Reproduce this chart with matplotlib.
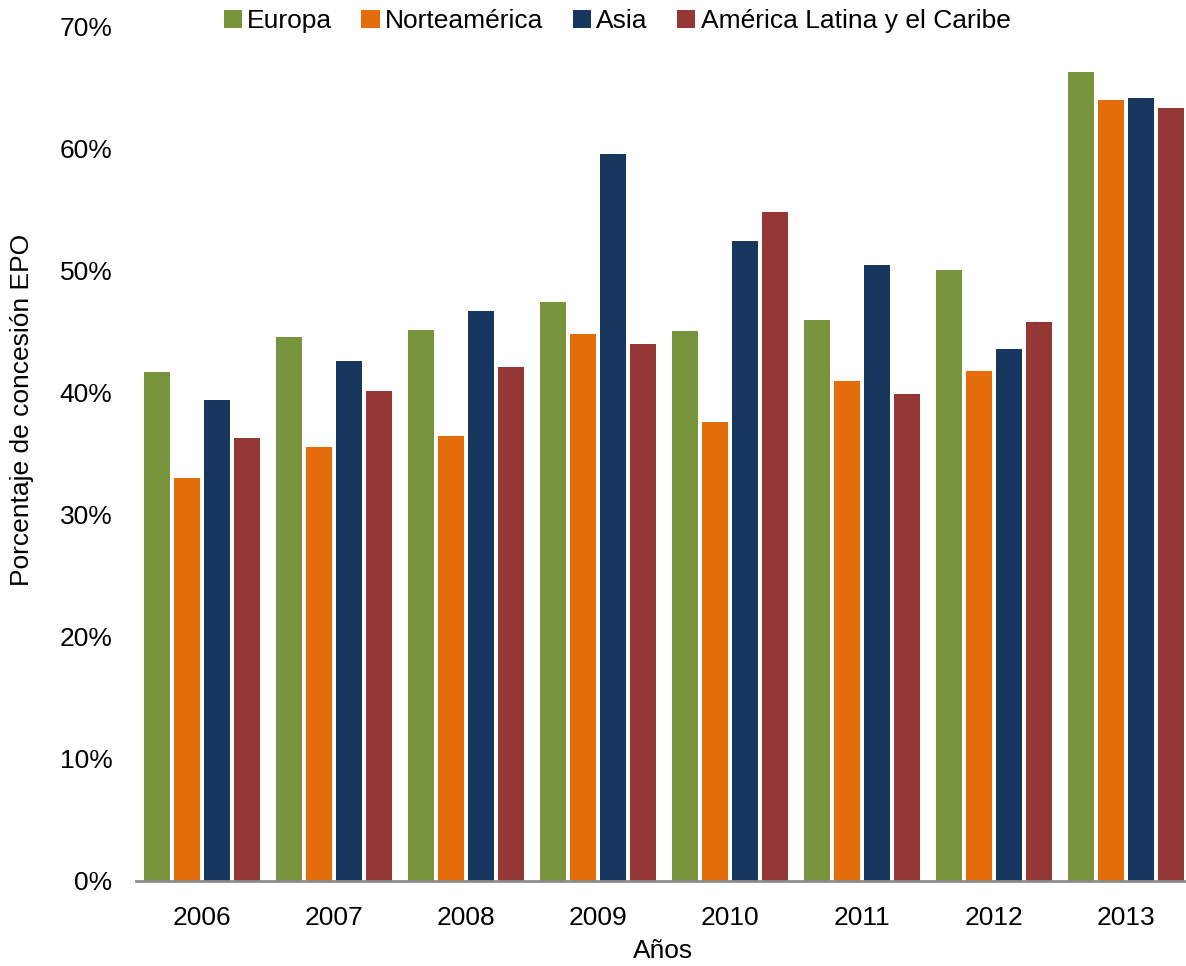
import matplotlib.pyplot as plt
import numpy as np

plt.rcParams['font.family'] = ['Liberation Sans', 'DejaVu Sans']

# Data
years = ['2006', '2007', '2008', '2009', '2010', '2011', '2012', '2013']
europa = [41.7, 44.6, 45.2, 47.5, 45.1, 46.0, 50.1, 66.3]
norteamerica = [33.0, 35.6, 36.5, 44.8, 37.6, 41.0, 41.8, 64.0]
asia = [39.4, 42.6, 46.7, 59.6, 52.5, 50.5, 43.6, 64.2]
america_latina = [36.3, 40.2, 42.1, 44.0, 54.8, 39.9, 45.8, 63.4]

series = [
    ('Europa', europa, '#77933C'),
    ('Norteamérica', norteamerica, '#E46C0A'),
    ('Asia', asia, '#17375E'),
    ('América Latina y el Caribe', america_latina, '#953735'),
]

fig = plt.figure(figsize=(11.86, 9.66), dpi=100)
ax = fig.add_axes([136 / 1186, 1 - 881 / 966, (1192 - 136) / 1186, (881 - 27) / 966])

x = np.arange(len(years))
step = 0.228
width = 0.197
for i, (name, vals, color) in enumerate(series):
    ax.bar(x + (i - 1.5) * step, vals, width, color=color, label=name)

ax.set_xlim(-0.5, 7.5)
ax.set_ylim(0, 70)
ax.set_yticks(np.arange(0, 71, 10))
ax.set_yticklabels([f'{v}%' for v in range(0, 71, 10)])
ax.set_xticks(x)
ax.set_xticklabels(years)
ax.tick_params(axis='both', length=0, labelsize=19)
ax.tick_params(axis='y', pad=17)
ax.tick_params(axis='x', pad=18)

for s in ['top', 'right', 'left']:
    ax.spines[s].set_visible(False)
ax.spines['bottom'].set_color('#8C8C8C')
ax.spines['bottom'].set_linewidth(2)

fig.text(22 / 1186, 1 - 410 / 966, 'Porcentaje de concesión EPO', rotation=90,
         ha='center', va='center', fontsize=19)
fig.text(663 / 1186, 1 - 951 / 966, 'Años', ha='center', va='center', fontsize=19)

fig.legend(loc='center', bbox_to_anchor=(617 / 1186, 1 - 21 / 966), ncol=4,
           frameon=False, fontsize=19, handlelength=0.7, handleheight=0.7,
           handletextpad=0.2, columnspacing=1.1)

fig.savefig('out.png', dpi=100)
